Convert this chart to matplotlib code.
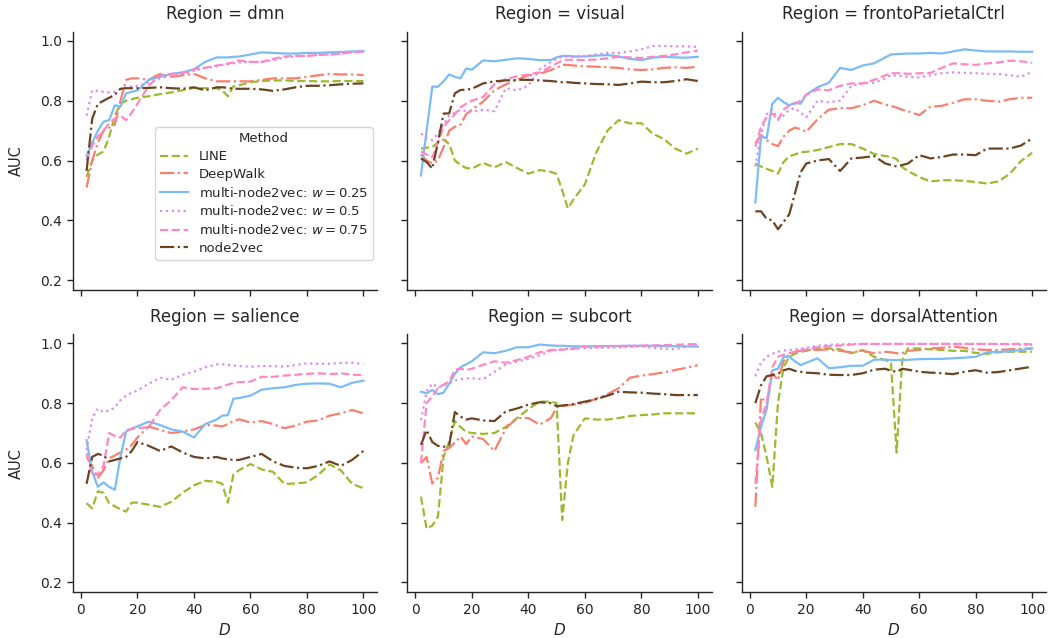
import matplotlib
matplotlib.use('Agg')
import matplotlib.pyplot as plt

# ---------------- data ----------------
D = [2, 4, 6, 8, 10, 12, 14, 16, 18, 20,
     24, 28, 32, 36, 40, 44, 48, 50, 52, 54,
     56, 60, 64, 68, 72, 76, 80, 84, 88, 92,
     96, 100]

regions = ['dmn', 'visual', 'frontoParietalCtrl', 'salience', 'subcort', 'dorsalAttention']
methods = ['LINE', 'DeepWalk', 'multi-node2vec: $w=0.25$', 'multi-node2vec: $w=0.5$',
           'multi-node2vec: $w=0.75$', 'node2vec']

# dmn
dmn_line = [0.545, 0.60, 0.62, 0.63, 0.68, 0.75, 0.79, 0.80, 0.805, 0.81,
            0.815, 0.822, 0.828, 0.835, 0.843, 0.842, 0.842, 0.835, 0.815, 0.848,
            0.852, 0.862, 0.866, 0.868, 0.868, 0.866, 0.866, 0.865, 0.865, 0.866,
            0.866, 0.866]
dmn_deepwalk = [0.51, 0.60, 0.66, 0.70, 0.71, 0.72, 0.80, 0.87, 0.875, 0.875,
                0.87, 0.89, 0.88, 0.885, 0.89, 0.875, 0.865, 0.865, 0.865, 0.865,
                0.865, 0.865, 0.87, 0.875, 0.875, 0.875, 0.88, 0.885, 0.89, 0.888,
                0.888, 0.886]
dmn_w025 = [0.615, 0.66, 0.70, 0.73, 0.735, 0.785, 0.78, 0.825, 0.83, 0.835,
            0.87, 0.88, 0.89, 0.895, 0.905, 0.93, 0.945, 0.945, 0.945, 0.947,
            0.948, 0.955, 0.962, 0.96, 0.958, 0.958, 0.96, 0.96, 0.962, 0.963,
            0.965, 0.966]
dmn_w05 = [0.75, 0.835, 0.832, 0.83, 0.828, 0.83, 0.84, 0.845, 0.848, 0.85,
           0.86, 0.875, 0.885, 0.89, 0.90, 0.91, 0.915, 0.92, 0.922, 0.925,
           0.928, 0.93, 0.93, 0.935, 0.945, 0.948, 0.95, 0.953, 0.955, 0.958,
           0.962, 0.964]
dmn_w075 = [0.60, 0.65, 0.68, 0.70, 0.725, 0.74, 0.75, 0.735, 0.76, 0.79,
            0.85, 0.885, 0.89, 0.892, 0.905, 0.91, 0.918, 0.92, 0.925, 0.928,
            0.935, 0.93, 0.93, 0.94, 0.948, 0.95, 0.95, 0.953, 0.955, 0.958,
            0.962, 0.965]
dmn_n2v = [0.565, 0.74, 0.79, 0.80, 0.81, 0.82, 0.84, 0.842, 0.842, 0.842,
           0.843, 0.845, 0.842, 0.84, 0.845, 0.835, 0.845, 0.845, 0.843, 0.84,
           0.84, 0.84, 0.838, 0.833, 0.838, 0.845, 0.85, 0.85, 0.852, 0.855,
           0.857, 0.858]

# visual
visual_line = [0.64, 0.643, 0.645, 0.66, 0.67, 0.655, 0.60, 0.585, 0.575, 0.573,
               0.592, 0.577, 0.595, 0.575, 0.556, 0.568, 0.562, 0.555, 0.50, 0.44,
               0.47, 0.52, 0.626, 0.70, 0.735, 0.724, 0.725, 0.69, 0.672, 0.64,
               0.623, 0.64]
visual_deepwalk = [0.62, 0.60, 0.59, 0.60, 0.645, 0.70, 0.713, 0.72, 0.755, 0.77,
                   0.797, 0.835, 0.855, 0.87, 0.885, 0.89, 0.903, 0.91, 0.92, 0.92,
                   0.918, 0.915, 0.914, 0.912, 0.91, 0.905, 0.903, 0.905, 0.91, 0.912,
                   0.91, 0.914]
visual_w025 = [0.55, 0.70, 0.847, 0.847, 0.865, 0.888, 0.88, 0.875, 0.908, 0.904,
               0.935, 0.932, 0.937, 0.942, 0.94, 0.936, 0.936, 0.945, 0.95, 0.95,
               0.948, 0.948, 0.951, 0.953, 0.948, 0.94, 0.936, 0.944, 0.947, 0.945,
               0.944, 0.947]
visual_w05 = [0.69, 0.675, 0.668, 0.69, 0.72, 0.75, 0.76, 0.77, 0.765, 0.763,
              0.77, 0.765, 0.842, 0.835, 0.85, 0.905, 0.93, 0.94, 0.947, 0.948,
              0.948, 0.95, 0.955, 0.96, 0.96, 0.965, 0.972, 0.983, 0.983, 0.982,
              0.982, 0.98]
visual_w075 = [0.63, 0.62, 0.61, 0.66, 0.713, 0.735, 0.755, 0.778, 0.79, 0.80,
               0.813, 0.855, 0.872, 0.882, 0.888, 0.895, 0.914, 0.925, 0.935, 0.937,
               0.937, 0.936, 0.938, 0.942, 0.947, 0.945, 0.943, 0.947, 0.95, 0.955,
               0.962, 0.968]
visual_n2v = [0.607, 0.595, 0.573, 0.66, 0.757, 0.758, 0.825, 0.836, 0.837, 0.84,
              0.858, 0.865, 0.868, 0.87, 0.87, 0.868, 0.866, 0.864, 0.862, 0.862,
              0.86, 0.858, 0.856, 0.855, 0.853, 0.858, 0.864, 0.862, 0.862, 0.866,
              0.872, 0.866]

# frontoParietalCtrl
fronto_line = [0.59, 0.58, 0.572, 0.565, 0.556, 0.595, 0.615, 0.62, 0.628, 0.629,
               0.635, 0.645, 0.655, 0.655, 0.64, 0.622, 0.615, 0.612, 0.605, 0.578,
               0.565, 0.545, 0.53, 0.534, 0.534, 0.532, 0.528, 0.523, 0.53, 0.555,
               0.598, 0.626]
fronto_deepwalk = [0.657, 0.685, 0.668, 0.655, 0.648, 0.68, 0.70, 0.71, 0.705, 0.696,
                   0.738, 0.77, 0.775, 0.775, 0.785, 0.80, 0.787, 0.783, 0.777, 0.77,
                   0.765, 0.752, 0.78, 0.783, 0.793, 0.805, 0.805, 0.80, 0.797, 0.805,
                   0.81, 0.81]
fronto_w025 = [0.46, 0.68, 0.675, 0.79, 0.81, 0.795, 0.785, 0.793, 0.79, 0.82,
               0.845, 0.86, 0.91, 0.903, 0.918, 0.925, 0.945, 0.955, 0.956, 0.957,
               0.958, 0.958, 0.96, 0.958, 0.965, 0.972, 0.968, 0.965, 0.965, 0.965,
               0.964, 0.964]
fronto_w05 = [0.58, 0.69, 0.755, 0.77, 0.74, 0.75, 0.77, 0.775, 0.76, 0.745,
              0.80, 0.795, 0.80, 0.85, 0.858, 0.86, 0.875, 0.886, 0.884, 0.882,
              0.88, 0.878, 0.885, 0.892, 0.895, 0.893, 0.892, 0.89, 0.889, 0.886,
              0.88, 0.897]
fronto_w075 = [0.646, 0.713, 0.745, 0.757, 0.735, 0.77, 0.785, 0.79, 0.80, 0.82,
               0.838, 0.835, 0.85, 0.858, 0.858, 0.87, 0.885, 0.892, 0.892, 0.892,
               0.89, 0.892, 0.893, 0.91, 0.925, 0.922, 0.92, 0.925, 0.928, 0.934,
               0.932, 0.927]
fronto_n2v = [0.43, 0.43, 0.405, 0.40, 0.37, 0.395, 0.42, 0.49, 0.56, 0.59,
              0.60, 0.605, 0.565, 0.607, 0.61, 0.615, 0.59, 0.585, 0.58, 0.585,
              0.59, 0.618, 0.607, 0.612, 0.62, 0.62, 0.618, 0.64, 0.64, 0.64,
              0.65, 0.674]

# salience
salience_line = [0.465, 0.448, 0.505, 0.50, 0.465, 0.455, 0.445, 0.437, 0.467, 0.467,
                 0.46, 0.453, 0.47, 0.50, 0.525, 0.54, 0.537, 0.53, 0.467, 0.562,
                 0.576, 0.596, 0.578, 0.57, 0.53, 0.531, 0.535, 0.56, 0.595, 0.575,
                 0.53, 0.515]
salience_deepwalk = [0.62, 0.59, 0.55, 0.575, 0.615, 0.625, 0.635, 0.645, 0.66, 0.685,
                     0.722, 0.71, 0.70, 0.705, 0.712, 0.727, 0.725, 0.722, 0.73, 0.74,
                     0.746, 0.735, 0.74, 0.73, 0.716, 0.725, 0.738, 0.742, 0.758, 0.766,
                     0.777, 0.766]
salience_w025 = [0.676, 0.57, 0.52, 0.535, 0.52, 0.51, 0.62, 0.705, 0.715, 0.722,
                 0.738, 0.727, 0.712, 0.705, 0.685, 0.73, 0.745, 0.758, 0.76, 0.815,
                 0.817, 0.825, 0.845, 0.85, 0.853, 0.861, 0.865, 0.866, 0.865, 0.853,
                 0.868, 0.875]
salience_w05 = [0.643, 0.75, 0.782, 0.77, 0.775, 0.785, 0.81, 0.825, 0.835, 0.842,
                0.865, 0.885, 0.878, 0.895, 0.905, 0.92, 0.93, 0.93, 0.928, 0.926,
                0.924, 0.922, 0.924, 0.924, 0.922, 0.928, 0.933, 0.932, 0.932, 0.934,
                0.935, 0.931]
salience_w075 = [0.632, 0.56, 0.56, 0.59, 0.70, 0.69, 0.685, 0.71, 0.713, 0.716,
                 0.72, 0.777, 0.81, 0.853, 0.847, 0.848, 0.85, 0.855, 0.862, 0.868,
                 0.87, 0.872, 0.888, 0.888, 0.892, 0.895, 0.898, 0.90, 0.897, 0.90,
                 0.895, 0.894]
salience_n2v = [0.53, 0.62, 0.63, 0.625, 0.605, 0.61, 0.615, 0.62, 0.64, 0.67,
                0.657, 0.64, 0.655, 0.635, 0.62, 0.615, 0.62, 0.615, 0.612, 0.61,
                0.61, 0.62, 0.63, 0.605, 0.59, 0.584, 0.582, 0.59, 0.605, 0.59,
                0.61, 0.64]

# subcort
subcort_line = [0.487, 0.38, 0.39, 0.42, 0.62, 0.67, 0.74, 0.72, 0.704, 0.70,
                0.697, 0.70, 0.72, 0.75, 0.78, 0.805, 0.805, 0.80, 0.409, 0.60,
                0.693, 0.749, 0.745, 0.745, 0.75, 0.757, 0.76, 0.762, 0.766, 0.766,
                0.766, 0.766]
subcort_deepwalk = [0.60, 0.62, 0.531, 0.55, 0.64, 0.65, 0.668, 0.688, 0.663, 0.688,
                    0.68, 0.64, 0.715, 0.75, 0.75, 0.728, 0.75, 0.785, 0.79, 0.793,
                    0.795, 0.80, 0.815, 0.83, 0.85, 0.885, 0.892, 0.897, 0.903, 0.911,
                    0.918, 0.927]
subcort_w025 = [0.838, 0.833, 0.844, 0.83, 0.835, 0.865, 0.898, 0.92, 0.93, 0.94,
                0.97, 0.967, 0.975, 0.987, 0.987, 0.996, 0.993, 0.992, 0.992, 0.991,
                0.99, 0.99, 0.99, 0.991, 0.991, 0.992, 0.992, 0.992, 0.991, 0.99,
                0.99, 0.989]
subcort_w05 = [0.743, 0.84, 0.866, 0.852, 0.858, 0.866, 0.875, 0.88, 0.883, 0.883,
               0.88, 0.905, 0.93, 0.939, 0.948, 0.96, 0.975, 0.978, 0.98, 0.982,
               0.983, 0.983, 0.985, 0.986, 0.987, 0.988, 0.99, 0.985, 0.982, 0.98,
               0.99, 0.997]
subcort_w075 = [0.60, 0.80, 0.822, 0.85, 0.862, 0.872, 0.912, 0.915, 0.911, 0.915,
                0.928, 0.94, 0.935, 0.944, 0.955, 0.97, 0.978, 0.978, 0.979, 0.98,
                0.982, 0.989, 0.99, 0.991, 0.991, 0.991, 0.992, 0.993, 0.994, 0.995,
                0.997, 0.998]
subcort_n2v = [0.66, 0.71, 0.67, 0.657, 0.654, 0.66, 0.77, 0.755, 0.745, 0.749,
               0.742, 0.74, 0.772, 0.782, 0.795, 0.803, 0.80, 0.79, 0.792, 0.794,
               0.797, 0.805, 0.813, 0.825, 0.838, 0.836, 0.835, 0.832, 0.83, 0.827,
               0.827, 0.827]

# dorsalAttention
dorsal_line = [0.735, 0.70, 0.62, 0.52, 0.80, 0.92, 0.955, 0.965, 0.972, 0.975,
               0.983, 0.983, 0.98, 0.967, 0.978, 0.955, 0.944, 0.935, 0.635, 0.944,
               0.983, 0.983, 0.98, 0.978, 0.975, 0.975, 0.968, 0.965, 0.97, 0.972,
               0.972, 0.972]
dorsal_deepwalk = [0.453, 0.82, 0.80, 0.90, 0.877, 0.94, 0.965, 0.972, 0.975, 0.978,
                   0.978, 0.98, 0.975, 0.97, 0.975, 0.967, 0.972, 0.97, 0.967, 0.967,
                   0.975, 0.978, 0.983, 0.985, 0.989, 0.985, 0.98, 0.978, 0.978, 0.98,
                   0.982, 0.983]
dorsal_w025 = [0.643, 0.72, 0.78, 0.91, 0.915, 0.955, 0.955, 0.94, 0.927, 0.935,
               0.95, 0.917, 0.92, 0.925, 0.925, 0.945, 0.946, 0.944, 0.944, 0.944,
               0.945, 0.947, 0.948, 0.948, 0.95, 0.952, 0.955, 0.97, 0.972, 0.973,
               0.978, 0.983]
dorsal_w05 = [0.89, 0.935, 0.955, 0.965, 0.972, 0.976, 0.978, 0.98, 0.982, 0.985,
              0.992, 0.995, 0.997, 0.998, 0.998, 0.998, 0.998, 0.998, 0.998, 0.998,
              0.998, 0.998, 0.998, 0.998, 0.998, 0.998, 0.998, 0.998, 0.997, 0.997,
              0.996, 0.994]
dorsal_w075 = [0.53, 0.745, 0.80, 0.92, 0.955, 0.962, 0.967, 0.972, 0.975, 0.98,
               0.987, 0.99, 0.993, 0.996, 0.998, 0.998, 0.998, 0.998, 0.998, 0.998,
               0.998, 0.998, 0.998, 0.998, 0.998, 0.998, 0.998, 0.998, 0.998, 0.998,
               0.998, 0.997]
dorsal_n2v = [0.80, 0.86, 0.89, 0.894, 0.898, 0.91, 0.915, 0.908, 0.905, 0.902,
              0.90, 0.895, 0.894, 0.894, 0.90, 0.912, 0.915, 0.908, 0.905, 0.915,
              0.912, 0.905, 0.902, 0.90, 0.897, 0.905, 0.91, 0.902, 0.904, 0.91,
              0.916, 0.922]

y_ticks = [0.2, 0.4, 0.6, 0.8, 1.0]
y_ticklabels = ['0.2', '0.4', '0.6', '0.8', '1.0']
x_ticks = [0, 20, 40, 60, 80, 100]
x_ticklabels = ['0', '20', '40', '60', '80', '100']

series = {
    'dmn': [dmn_line, dmn_deepwalk, dmn_w025, dmn_w05, dmn_w075, dmn_n2v],
    'visual': [visual_line, visual_deepwalk, visual_w025, visual_w05, visual_w075, visual_n2v],
    'frontoParietalCtrl': [fronto_line, fronto_deepwalk, fronto_w025, fronto_w05, fronto_w075, fronto_n2v],
    'salience': [salience_line, salience_deepwalk, salience_w025, salience_w05, salience_w075, salience_n2v],
    'subcort': [subcort_line, subcort_deepwalk, subcort_w025, subcort_w05, subcort_w075, subcort_n2v],
    'dorsalAttention': [dorsal_line, dorsal_deepwalk, dorsal_w025, dorsal_w05, dorsal_w075, dorsal_n2v],
}

# ---------------- style ----------------
colors = ['#9bbb2f', '#fa7f6f', '#7cbcf5', '#d88cf0', '#ff88c4', '#6b4423']
styles = ['--', '-.', '-', ':', '--', '-.']
text_color = '#262626'

plt.rcParams['font.family'] = ['DejaVu Sans']
plt.rcParams['mathtext.fontset'] = 'dejavusans'

fig, axes = plt.subplots(2, 3, figsize=(10.51, 6.38), dpi=100, sharex=True, sharey=True)
fig.subplots_adjust(left=0.0692, right=0.9953, bottom=0.0716, top=0.9503,
                    wspace=0.098, hspace=0.171)

for ax, region in zip(axes.flat, regions):
    for vals, name, c, ls in zip(series[region], methods, colors, styles):
        ax.plot(D, vals, color=c, linestyle=ls, linewidth=1.6, label=name)
    ax.set_title(f'Region = {region}', fontsize=12, color=text_color, pad=9)
    for s in ('top', 'right'):
        ax.spines[s].set_visible(False)
    for s in ('left', 'bottom'):
        ax.spines[s].set_linewidth(1.0)
        ax.spines[s].set_color(text_color)
    ax.tick_params(axis='both', direction='out', length=4, width=1.0,
                   labelsize=10, colors=text_color)
    ax.set_xlim(-2.9, 104.9)
    ax.set_ylim(0.167, 1.031)
    ax.set_yticks(y_ticks)
    ax.set_yticklabels(y_ticklabels)
    ax.set_xticks(x_ticks)
    ax.set_xticklabels(x_ticklabels)

for ax in axes[:, 0]:
    ax.set_ylabel('AUC', fontsize=10.5, color=text_color, labelpad=12)
for ax in axes[1, :]:
    ax.set_xlabel('$D$', fontsize=11, color=text_color)

leg = axes[0, 0].legend(title='Method', loc='lower right', bbox_to_anchor=(0.985, 0.115),
                        borderaxespad=0, fontsize=9.5, title_fontsize=9.5,
                        frameon=True, handlelength=2.1, labelspacing=0.36,
                        borderpad=0.4)
leg.get_frame().set_edgecolor('#cccccc')
for t in leg.get_texts():
    t.set_color(text_color)
leg.get_title().set_color(text_color)

fig.savefig('out.png', dpi=100)
